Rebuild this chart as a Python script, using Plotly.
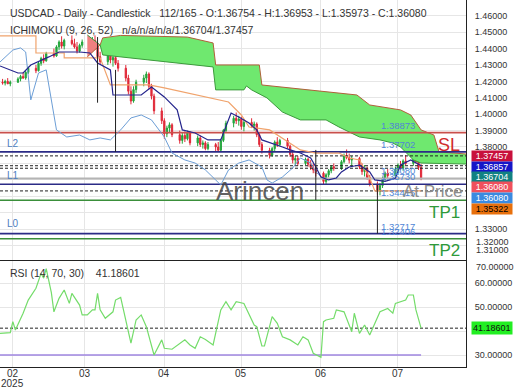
import plotly.graph_objects as go
from plotly.subplots import make_subplots
import pandas as pd

# ---------------- data ----------------
opens = [1.4195,1.4190,1.4200,1.4185,1.4195,1.4215,1.4230,1.4220,1.4255,1.4280,
         1.4265,1.4310,1.4340,1.4325,1.4370,1.4355,1.4410,1.4440,1.4415,1.4450,
         1.4430,1.4410,1.4385,1.4420,1.4440,1.4435,1.4450,1.4415,1.4350,1.4320,
         1.4355,1.4330,1.4345,1.4310,1.4280,1.4220,1.4140,1.4080,1.4150,1.4195,
         1.4220,1.4245,1.4170,1.4110,1.4020,1.3960,1.3880,1.3915,1.3935,1.3875,
         1.3840,1.3870,1.3850,1.3885,1.3825,1.3855,1.3815,1.3825,1.3790,1.3815,
         1.3800,1.3780,1.3840,1.3900,1.3945,1.3975,1.3960,1.3970,1.3925,1.3950,
         1.3930,1.3940,1.3875,1.3815,1.3780,1.3750,1.3790,1.3830,1.3815,1.3840,
         1.3805,1.3755,1.3720,1.3730,1.3700,1.3725,1.3695,1.3675,1.3660,1.3640,
         1.3590,1.3630,1.3655,1.3680,1.3670,1.3710,1.3745,1.3735,1.3720,1.3730,
         1.3680,1.3650,1.3670,1.3615,1.3575,1.3530,1.3565,1.3610,1.3640,1.3625,
         1.3665,1.3690,1.3670,1.3715,1.3700,1.3735,1.3710,1.36754]
highs = [1.4215,1.4210,1.4220,1.4205,1.4225,1.4240,1.4255,1.4265,1.4290,1.4300,
         1.4320,1.4350,1.4365,1.4380,1.4400,1.4420,1.4450,1.4475,1.4460,1.4480,
         1.4460,1.4440,1.4430,1.4455,1.4470,1.4470,1.4480,1.4440,1.4380,1.4370,
         1.4375,1.4360,1.4365,1.4330,1.4300,1.4240,1.4170,1.4170,1.4210,1.4240,
         1.4260,1.4255,1.4185,1.4125,1.4040,1.3975,1.3930,1.3950,1.3945,1.3900,
         1.3890,1.3895,1.3900,1.3895,1.3870,1.3870,1.3840,1.3835,1.3830,1.3825,
         1.3830,1.3850,1.3910,1.3960,1.3990,1.4010,1.3990,1.3985,1.3965,1.3975,
         1.3955,1.3950,1.3890,1.3830,1.3795,1.3800,1.3840,1.3860,1.3850,1.3855,
         1.3815,1.3770,1.3745,1.3745,1.3735,1.3735,1.3720,1.3700,1.3690,1.3650,
         1.3640,1.3665,1.3690,1.3700,1.3720,1.3760,1.3785,1.3760,1.3745,1.3740,
         1.3700,1.3690,1.3680,1.3630,1.3590,1.3580,1.3620,1.3650,1.3665,1.3680,
         1.3700,1.3715,1.3725,1.3750,1.3745,1.3770,1.3720,1.36953]
lows = [1.4180,1.4175,1.4185,1.4170,1.4190,1.4200,1.4215,1.4210,1.4245,1.4250,
        1.4260,1.4295,1.4310,1.4320,1.4345,1.4350,1.4390,1.4400,1.4395,1.4420,
        1.4400,1.4370,1.4375,1.4405,1.4420,1.4410,1.4400,1.4330,1.4300,1.4300,
        1.4310,1.4290,1.4300,1.4260,1.4200,1.4120,1.4060,1.4070,1.4130,1.4170,
        1.4190,1.4150,1.4090,1.4000,1.3940,1.3850,1.3860,1.3890,1.3860,1.3820,
        1.3820,1.3830,1.3840,1.3810,1.3805,1.3800,1.3790,1.3780,1.3780,1.3775,
        1.3770,1.3775,1.3830,1.3890,1.3920,1.3940,1.3930,1.3905,1.3895,1.3915,
        1.3900,1.3860,1.3800,1.3760,1.3730,1.3740,1.3775,1.3800,1.3805,1.3790,
        1.3740,1.3700,1.3690,1.3685,1.3690,1.3680,1.3660,1.3640,1.3620,1.3570,
        1.3575,1.3615,1.3640,1.3655,1.3660,1.3700,1.3725,1.3700,1.3680,1.3665,
        1.3630,1.3620,1.3600,1.3560,1.3510,1.3505,1.3550,1.3595,1.3610,1.3615,
        1.3640,1.3660,1.3655,1.3690,1.3685,1.3700,1.3660,1.35973]
closes = [1.4190,1.4200,1.4185,1.4195,1.4215,1.4230,1.4220,1.4255,1.4280,1.4265,
          1.4310,1.4340,1.4325,1.4370,1.4355,1.4410,1.4440,1.4415,1.4450,1.4430,
          1.4410,1.4385,1.4420,1.4440,1.4435,1.4450,1.4415,1.4350,1.4320,1.4355,
          1.4330,1.4345,1.4310,1.4280,1.4220,1.4140,1.4080,1.4150,1.4195,1.4220,
          1.4245,1.4170,1.4110,1.4020,1.3960,1.3880,1.3915,1.3935,1.3875,1.3840,
          1.3870,1.3850,1.3885,1.3825,1.3855,1.3815,1.3825,1.3790,1.3815,1.3800,
          1.3780,1.3840,1.3900,1.3945,1.3975,1.3960,1.3970,1.3925,1.3950,1.3930,
          1.3940,1.3875,1.3815,1.3780,1.3750,1.3790,1.3830,1.3815,1.3840,1.3805,
          1.3755,1.3720,1.3730,1.3700,1.3725,1.3695,1.3675,1.3660,1.3640,1.3590,
          1.3630,1.3655,1.3680,1.3670,1.3710,1.3745,1.3735,1.3720,1.3730,1.3680,
          1.3650,1.3670,1.3615,1.3575,1.3530,1.3565,1.3610,1.3640,1.3625,1.3665,
          1.3690,1.3670,1.3715,1.3700,1.3735,1.3710,1.3675,1.36080]
candle_dates = pd.bdate_range("2025-01-28", periods=len(closes))

tenkan_dates = ["2025-01-27","2025-02-03","2025-02-05","2025-02-08","2025-02-15","2025-02-19",
                "2025-02-27","2025-03-03","2025-03-06","2025-03-11","2025-03-12","2025-03-23",
                "2025-03-27","2025-04-01","2025-04-06","2025-04-08","2025-04-13","2025-04-18",
                "2025-04-23","2025-04-25","2025-04-27","2025-04-30","2025-05-04","2025-05-07",
                "2025-05-09","2025-05-17","2025-05-20","2025-05-24","2025-05-28","2025-05-30",
                "2025-06-01","2025-06-04","2025-06-07","2025-06-09","2025-06-12","2025-06-16",
                "2025-06-20","2025-06-22","2025-06-26","2025-06-30","2025-07-02","2025-07-06",
                "2025-07-10"]
tenkan = [1.4294,1.4251,1.4251,1.4300,1.4349,1.4379,1.4379,1.4373,1.4312,1.4270,1.4117,1.4117,
          1.4166,1.4105,1.4026,1.3904,1.3885,1.3843,1.3843,1.3922,1.4007,1.3983,1.3946,1.3904,
          1.3843,1.3800,1.3782,1.3763,1.3733,1.3678,1.3617,1.3599,1.3611,1.3648,1.3678,1.3690,
          1.3648,1.3599,1.3590,1.3610,1.3690,1.3721,1.36857]

kijun_dates = ["2025-01-27","2025-02-10","2025-02-10","2025-02-21","2025-02-21","2025-03-07",
               "2025-03-11","2025-03-26","2025-04-01","2025-04-13","2025-04-26","2025-05-01",
               "2025-05-04","2025-05-12","2025-05-20","2025-05-24","2025-05-30","2025-06-08",
               "2025-06-12","2025-06-16","2025-06-20","2025-06-22","2025-07-10"]
kijun = [1.4477,1.4477,1.4373,1.4373,1.4343,1.4343,1.4178,1.4178,1.4160,1.4117,1.4074,1.3995,
         1.3922,1.3904,1.3824,1.3782,1.3763,1.3763,1.3733,1.3721,1.3611,1.35322,1.35322]

chikou_dates = ["2025-01-27","2025-01-30","2025-02-01","2025-02-04","2025-02-06","2025-02-08",
                "2025-02-11","2025-02-14","2025-02-18","2025-02-22","2025-02-27","2025-03-03",
                "2025-03-07","2025-03-11","2025-03-15","2025-03-19","2025-03-23","2025-03-27",
                "2025-04-01","2025-04-04","2025-04-09","2025-04-13","2025-04-17","2025-04-21",
                "2025-04-23","2025-04-26","2025-04-30","2025-05-04","2025-05-09","2025-05-11",
                "2025-05-13","2025-05-17","2025-05-21","2025-05-24","2025-05-28","2025-05-30",
                "2025-06-02"]
chikou = [1.4318,1.4361,1.4391,1.4404,1.4379,1.4087,1.4251,1.4270,1.3904,1.3861,1.3873,1.3843,
          1.3855,1.3843,1.3904,1.3977,1.3995,1.3965,1.3861,1.3763,1.3721,1.3702,1.3660,1.3599,
          1.3568,1.3660,1.3702,1.3721,1.3678,1.3599,1.3580,1.3617,1.3672,1.3733,1.3702,1.3648,
          1.36080]

span_a_dates = ["2025-03-02","2025-03-07","2025-03-08","2025-04-20","2025-04-21","2025-05-02",
                "2025-05-03","2025-05-05","2025-05-11","2025-05-17","2025-05-24","2025-06-03",
                "2025-06-08","2025-06-16","2025-06-24","2025-06-29","2025-07-02","2025-07-07",
                "2025-07-10","2025-07-27 12:00"]
span_a = [1.4483,1.4422,1.4361,1.4288,1.4148,1.4148,1.4172,1.4148,1.4099,1.4013,1.3965,1.3965,
          1.3922,1.3861,1.3843,1.3824,1.3800,1.3721,1.3702,1.3696]
span_b_dates = ["2025-03-02","2025-03-07","2025-03-08","2025-03-15","2025-04-10","2025-04-20",
                "2025-04-21","2025-05-08","2025-05-09","2025-05-28","2025-06-15","2025-06-20",
                "2025-07-02","2025-07-06","2025-07-10","2025-07-15","2025-07-17","2025-07-27 12:00"]
span_b = [1.4349,1.4422,1.4465,1.4480,1.4470,1.4434,1.4300,1.4300,1.4178,1.4148,1.4117,1.4056,
          1.4026,1.3995,1.3904,1.3873,1.3770,1.3757]

rsi_dates = ["2025-01-27","2025-01-31","2025-02-01","2025-02-02","2025-02-05","2025-02-07",
             "2025-02-10","2025-02-11","2025-02-12","2025-02-13","2025-02-14","2025-02-16",
             "2025-02-17","2025-02-19","2025-02-21","2025-02-23","2025-02-24","2025-02-27",
             "2025-02-28","2025-03-02","2025-03-04","2025-03-05","2025-03-06","2025-03-07",
             "2025-03-09","2025-03-12","2025-03-13","2025-03-15","2025-03-17","2025-03-19",
             "2025-03-21","2025-03-23","2025-03-25","2025-03-28","2025-03-31","2025-04-01",
             "2025-04-04","2025-04-07","2025-04-09","2025-04-11","2025-04-13","2025-04-15",
             "2025-04-17","2025-04-20","2025-04-23","2025-04-25","2025-04-27","2025-04-29",
             "2025-05-02","2025-05-06","2025-05-07","2025-05-09","2025-05-10","2025-05-13",
             "2025-05-15","2025-05-17","2025-05-20","2025-05-23","2025-05-25","2025-05-27",
             "2025-05-29","2025-06-01","2025-06-02","2025-06-03","2025-06-06","2025-06-07",
             "2025-06-10","2025-06-13","2025-06-14","2025-06-16","2025-06-18","2025-06-20",
             "2025-06-24","2025-06-27","2025-06-29","2025-06-30","2025-07-02","2025-07-04",
             "2025-07-05","2025-07-07","2025-07-08","2025-07-10"]
rsi = [39.0,39.3,43.9,40.4,47.4,52.9,57.8,61.3,64.0,62.0,66.0,56.0,
       48.0,53.6,57.1,51.5,55.7,50.8,46.7,46.7,48.8,48.8,55.7,48.8,
       45.3,48.0,52.9,54.0,44.6,34.9,44.6,46.7,41.8,30.0,36.3,32.8,
       32.4,34.9,36.3,34.2,32.8,37.6,36.5,34.2,48.8,52.2,48.8,52.2,
       51.5,42.5,41.8,33.75,33.75,46.0,43.2,37.6,36.3,34.2,37.6,36.3,
       30.7,29.0,43.9,44.6,45.3,48.8,48.0,39.7,47.4,39.0,42.5,38.3,
       48.0,49.4,47.4,51.5,52.2,52.9,55.0,55.0,48.8,41.18601]

# horizontal levels (name, value)
level_names = ["SL", "L2", "At Price", "L1", "TP1", "L0", "TP2"]
level_values = [1.38873, 1.37702, 1.36080, 1.35730, 1.34750, 1.32717, 1.32406]
level_colors = ["#c9504c", "#2b2b86", "#b4b4b4", "#2b2b86", "#3a8f3a", "#2b2b86", "#3a8f3a"]
current_values = [1.37457, 1.36857, 1.36704, 1.35322]

# vertical drawing segments (date, top, bottom)
vseg_dates = ["2025-03-06", "2025-03-13", "2025-05-30", "2025-06-23"]
vseg_top = [1.4470, 1.4270, 1.3782, 1.3568]
vseg_bot = [1.4070, 1.3770, 1.3477, 1.3272]

box_labels = ["1.37457", "1.36857", "1.36704", "1.36080", "1.36080", "1.35322"]
box_colors = ["#c8103c", "#1616c8", "#128282", "#f0505c", "#3a8ae0", "#e8700c"]
box_text = ["white", "white", "white", "white", "white", "black"]

month_ticks = ["2025-02-01", "2025-03-01", "2025-04-01", "2025-05-01", "2025-06-01", "2025-07-01"]
month_text = ["02", "03", "04", "05", "06", "07"]
year_text = "2025"

rsi_level = 30
rsi_now = 41.18601

# ---------------- layout helpers ----------------
W, H = 520, 390
MR, MB = 54, 23
PH = H - MB
def py(px):
    return (PH - px) / PH
FONT = "Liberation Sans, Arial, sans-serif"
X0, X1 = "2025-01-27", "2025-07-27 12:00"

fig = make_subplots(rows=2, cols=1, shared_xaxes=True, vertical_spacing=0.0)

# cloud
ia = span_a_dates.index("2025-03-07")
ib = span_b_dates.index("2025-03-07")
gx = span_b_dates[ib:] + span_a_dates[ia:][::-1]
gy = span_b[ib:] + span_a[ia:][::-1]
fig.add_trace(go.Scatter(x=gx, y=gy, fill="toself", fillcolor="#6fe86f", line=dict(width=0),
                         mode="lines", hoverinfo="skip"), row=1, col=1)
px_ = span_a_dates[:ia + 1] + span_b_dates[:ib + 1][::-1]
py_ = span_a[:ia + 1] + span_b[:ib + 1][::-1]
fig.add_trace(go.Scatter(x=px_, y=py_, fill="toself", fillcolor="#f08080", line=dict(width=0),
                         mode="lines", hoverinfo="skip"), row=1, col=1)
fig.add_trace(go.Scatter(x=span_b_dates, y=span_b, mode="lines",
                         line=dict(color="#b0603a", width=1)), row=1, col=1)
fig.add_trace(go.Scatter(x=span_a_dates, y=span_a, mode="lines",
                         line=dict(color="#3c9a3c", width=1)), row=1, col=1)

# levels
for name, v, c in zip(level_names, level_values, level_colors):
    fig.add_trace(go.Scatter(x=[X0, X1], y=[v, v], mode="lines",
                             line=dict(color=c, width=1.6 if name != "At Price" else 2)), row=1, col=1)
for v in current_values:
    fig.add_trace(go.Scatter(x=[X0, X1], y=[v, v], mode="lines",
                             line=dict(color="#222", width=1, dash="3px,2px")), row=1, col=1)

# ichimoku lines
fig.add_trace(go.Scatter(x=chikou_dates, y=chikou, mode="lines",
                         line=dict(color="#6c9ed6", width=1)), row=1, col=1)
fig.add_trace(go.Scatter(x=kijun_dates, y=kijun, mode="lines",
                         line=dict(color="#f0a36c", width=1.2)), row=1, col=1)
fig.add_trace(go.Scatter(x=tenkan_dates, y=tenkan, mode="lines",
                         line=dict(color="#24248c", width=1.2)), row=1, col=1)

# vertical segments
for d, t, b in zip(vseg_dates, vseg_top, vseg_bot):
    fig.add_trace(go.Scatter(x=[d, d], y=[t, b], mode="lines",
                             line=dict(color="#222", width=1)), row=1, col=1)

# candles
fig.add_trace(go.Candlestick(x=candle_dates, open=opens, high=highs, low=lows, close=closes,
                             increasing=dict(line=dict(color="#23a63c", width=1), fillcolor="#23a63c"),
                             decreasing=dict(line=dict(color="#e02838", width=1), fillcolor="#e02838"),
                             whiskerwidth=0), row=1, col=1)

# RSI
fig.add_trace(go.Scatter(x=[X0, X1], y=[rsi_now, rsi_now], mode="lines",
                         line=dict(color="#222", width=1, dash="3px,2px")), row=2, col=1)
fig.add_trace(go.Scatter(x=[X0, "2025-07-10"], y=[rsi_level, rsi_level], mode="lines",
                         line=dict(color="#9f86e0", width=1.5)), row=2, col=1)
fig.add_trace(go.Scatter(x=rsi_dates, y=rsi, mode="lines",
                         line=dict(color="#74dc6a", width=1.2)), row=2, col=1)

# axes
main_ticks = [round(1.31 + 0.01 * i, 2) for i in range(16)]
main_text = []
for v in main_ticks:
    if v in (1.31, 1.32, 1.34, 1.35, 1.36, 1.37):
        main_text.append("")
    else:
        main_text.append(f"{v:.5f}")

fig.update_xaxes(range=[X0, X1], tickvals=month_ticks, ticktext=month_text, showgrid=True,
                 gridcolor="#e6e6e6", gridwidth=1, rangeslider_visible=False, zeroline=False,
                 showticklabels=False, ticks="", automargin=False)
fig.update_xaxes(showline=True, linecolor="#555", linewidth=1, row=1, col=1)
fig.update_xaxes(showline=True, linecolor="#222", linewidth=1, mirror=True, row=2, col=1)
fig.update_yaxes(side="right", range=[1.3111, 1.4696], tickvals=main_ticks, ticktext=main_text,
                 showgrid=True, gridcolor="#e6e6e6", zeroline=False, showline=True, linecolor="#222",
                 tickfont=dict(family=FONT, size=9, color="#333"), ticks="", ticklabelstandoff=6,
                 automargin=False, domain=[py(260), 1], row=1, col=1)
fig.update_yaxes(side="right", range=[25.0, 69.17], tickvals=[30, 40, 50, 60],
                 ticktext=["30.00000", "", "50.00000", "60.00000"], showgrid=True, gridcolor="#e6e6e6",
                 zeroline=False, showline=True, linecolor="#222", ticks="", ticklabelstandoff=6,
                 automargin=False, tickfont=dict(family=FONT, size=9, color="#333"),
                 domain=[0, py(261)], row=2, col=1)

ann = []
def txt(x, y, s, size=10.5, color="#333", xanchor="left", xref="paper", yref="paper", **kw):
    ann.append(dict(x=x, y=y, xref=xref, yref=yref, text=s, showarrow=False, xanchor=xanchor,
                    yanchor="middle", font=dict(family=FONT, size=size, color=color), **kw))

NB = "\u00a0"
txt(8 / 466, py(12.5), "USDCAD - Daily - Candlestick" + NB * 3 +
    "112/165 - O:1.36754 - H:1.36953 - L:1.35973 - C:1.36080")
txt(8 / 466, py(30.5), "ICHIMOKU (9, 26, 52)" + NB * 3 + "n/a/n/a/n/a/1.36704/1.37457")
txt(8 / 466, py(273), "RSI (14, 70, 30)" + NB * 4 + "41.18601")

# month labels under the RSI panel
for d, s in zip(month_ticks, month_text):
    ann.append(dict(x=d, y=py(373), xref="x", yref="paper", text=s, showarrow=False,
                    xanchor="center", yanchor="middle", font=dict(family=FONT, size=10, color="#333")))
ann.append(dict(x=month_ticks[0], y=py(383.5), xref="x", yref="paper", text=year_text,
                showarrow=False, xanchor="center", yanchor="middle",
                font=dict(family=FONT, size=10, color="#333")))

# right-side value boxes
for lab, bg, fc, ypx in zip(box_labels, box_colors, box_text, [156, 166.5, 177, 187.5, 198, 208.5]):
    ann.append(dict(x=1, y=py(ypx), xref="paper", yref="paper", text=lab, showarrow=False,
                    xanchor="left", yanchor="middle", xshift=5, bgcolor=bg, borderpad=0,
                    width=40, height=10, font=dict(family=FONT, size=9, color=fc)))
txt(1, py(242), "1.32000", size=9, xshift=8)
txt(1, py(250.5), "1.31000", size=9, xshift=8)
txt(1, py(267), "70.00000", size=9, xshift=8)
ann.append(dict(x=1, y=py(328), xref="paper", yref="paper", text="41.18601", showarrow=False,
                xanchor="left", yanchor="middle", xshift=5, bgcolor="#22ee22", borderpad=1,
                font=dict(family=FONT, size=9, color="#111")))

# level value labels
for name, v in zip(level_names, level_values):
    if name == "TP1":
        continue
    ann.append(dict(x="2025-07-01", y=v, xref="x", yref="y", text=f"{v:.5f}", showarrow=False,
                    xanchor="center", yanchor="bottom", yshift=0,
                    font=dict(family=FONT, size=9.5, color="#4f86d6")))
ann.append(dict(x="2025-07-01", y=1.3475, xref="x", yref="y", text="1.34415", showarrow=False,
                xanchor="center", yanchor="bottom", yshift=0,
                font=dict(family=FONT, size=9.5, color="#4f86d6")))

txt(5 / 466, py(143), "L2", size=10, color="#4f80c0")
txt(5 / 466, py(175), "L1", size=10, color="#4f80c0")
txt(5 / 466, py(223), "L0", size=10, color="#4f80c0")
txt(462 / 466, py(145), "SL", size=18, color="#d02a2a", xanchor="right")
txt(462 / 466, py(212), "TP1", size=17, color="#2e9a3a", xanchor="right")
txt(462 / 466, py(250), "TP2", size=17, color="#2e9a3a", xanchor="right")
txt(465 / 466, py(192), "At Price", size=17, color="#8c8c8c", xanchor="right")
txt(260 / 466, py(191), "Arincen", size=26, color="rgba(70,70,70,0.85)", xanchor="center")

fig.update_layout(width=W, height=H, margin=dict(l=0, r=MR, t=0, b=MB), showlegend=False,
                  plot_bgcolor="white", paper_bgcolor="white", annotations=ann,
                  font=dict(family=FONT))

fig.write_html("out.html", config={"displayModeBar": False},
               post_script="document.body.style.margin='0px';document.body.style.overflow='hidden';")
